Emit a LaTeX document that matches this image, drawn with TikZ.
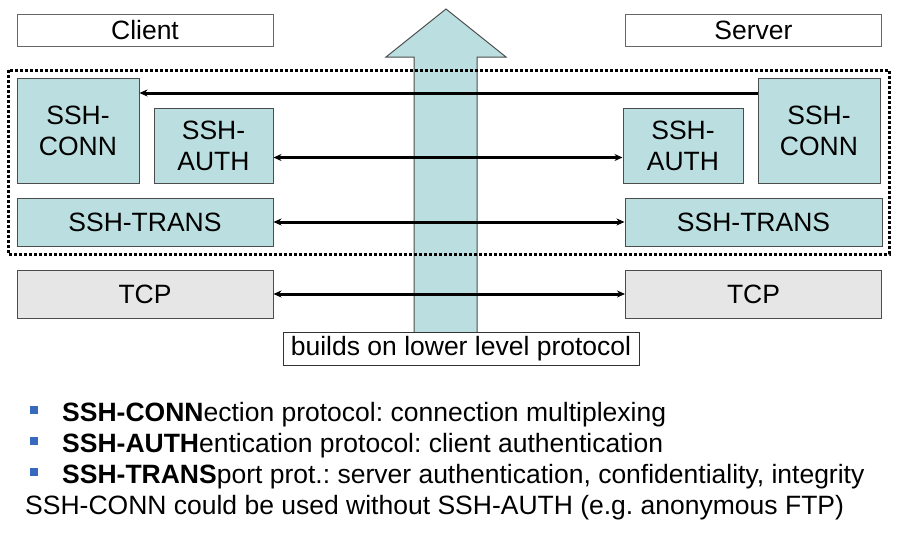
\documentclass[tikz,border=0pt]{standalone}
\usepackage{fontspec}
\setmainfont{Liberation Sans}
\usepackage{xcolor}
\usepackage{tikz}
\usetikzlibrary{arrows.meta}
\definecolor{layerteal}{RGB}{187,223,224}
\definecolor{tcpgray}{RGB}{230,230,230}
\definecolor{bulletblue}{RGB}{55,105,190}
\newcommand{\sshtxt}[1]{\fontsize{26.5}{31}\selectfont\frenchspacing #1}

\begin{document}
\begin{tikzpicture}[x=1pt,y=-1pt,every node/.style={font=\sshtxt{}},
  layer/.style={draw=black!70,line width=1pt,fill=layerteal,inner sep=0pt,align=center},
  hostbox/.style={draw=black!60,line width=1pt,fill=white,inner sep=0pt,minimum width=256pt,minimum height=32pt},
  tcpbox/.style={draw=black!70,line width=1pt,fill=tcpgray,inner sep=0pt,minimum width=256pt,minimum height=48pt},
  peer/.style={line width=3pt,{Stealth[length=8pt,width=7pt]}-{Stealth[length=8pt,width=7pt]}},
  bsq/.style={fill=bulletblue,inner sep=0pt,minimum width=8pt,minimum height=8pt}]
  \useasboundingbox (0,0) rectangle (908,536);
  % big arrow behind everything
  \draw[black!70,line width=1pt,fill=layerteal] (414,333) -- (414,57) -- (386,57) -- (446,9) -- (506,57) -- (477,57) -- (477,333) -- cycle;
  \node[hostbox] (client) at (145,30) {Client};
  \node[hostbox] (server) at (753.5,30) {Server};
  \draw[line width=3pt,dash pattern=on 3pt off 2pt] (8,70) rectangle (889,254);
  \node[layer,minimum width=122pt,minimum height=105pt] (cconn) at (78,130.5) {SSH-\\CONN};
  \node[layer,minimum width=119pt,minimum height=75pt] (cauth) at (213.5,145.5) {SSH-\\AUTH};
  \node[layer,minimum width=120pt,minimum height=75pt] (sauth) at (683,145.5) {SSH-\\AUTH};
  \node[layer,minimum width=122pt,minimum height=105pt] (sconn) at (819,130.5) {SSH-\\CONN};
  \node[layer,minimum width=256pt,minimum height=48pt] (ctrans) at (145,222) {SSH-TRANS};
  \node[layer,minimum width=257pt,minimum height=48pt] (strans) at (753.5,222) {SSH-TRANS};
  \node[tcpbox] (ctcp) at (145,294) {TCP};
  \node[tcpbox] (stcp) at (753.5,294) {TCP};
  \draw[line width=3pt,{Stealth[length=8pt,width=7pt]}-] ([yshift=37.5pt]cconn.east) -- ([yshift=37.5pt]sconn.west);
  \draw[peer] ([yshift=-12pt]cauth.east) -- ([yshift=-12pt]sauth.west);
  \draw[peer] (ctrans) -- (strans);
  \draw[peer] (ctcp) -- (stcp);
  \node[draw=black!80,line width=1pt,fill=white,inner sep=0pt,minimum width=356pt,minimum height=33pt] (lower) at (461,348.5) {builds on lower level protocol};
  % notes
  \node[bsq] (b1) at (33.5,410) {};
  \node[bsq] (b2) at (33.5,441) {};
  \node[bsq] (b3) at (33.5,472) {};
  \node[anchor=base west,inner sep=0pt] (n1) at (62,421) {\textbf{SSH-CONN}ection protocol: connection multiplexing};
  \node[anchor=base west,inner sep=0pt] (n2) at (62,452) {\textbf{SSH-AUTH}entication protocol: client authentication};
  \node[anchor=base west,inner sep=0pt] (n3) at (62,483) {\textbf{SSH-TRANS}port prot.: server authentication, confidentiality, integrity};
  \node[anchor=base west,inner sep=0pt] (n4) at (25,514) {SSH-CONN could be used without SSH-AUTH (e.g. anonymous FTP)};
\end{tikzpicture}
\end{document}
